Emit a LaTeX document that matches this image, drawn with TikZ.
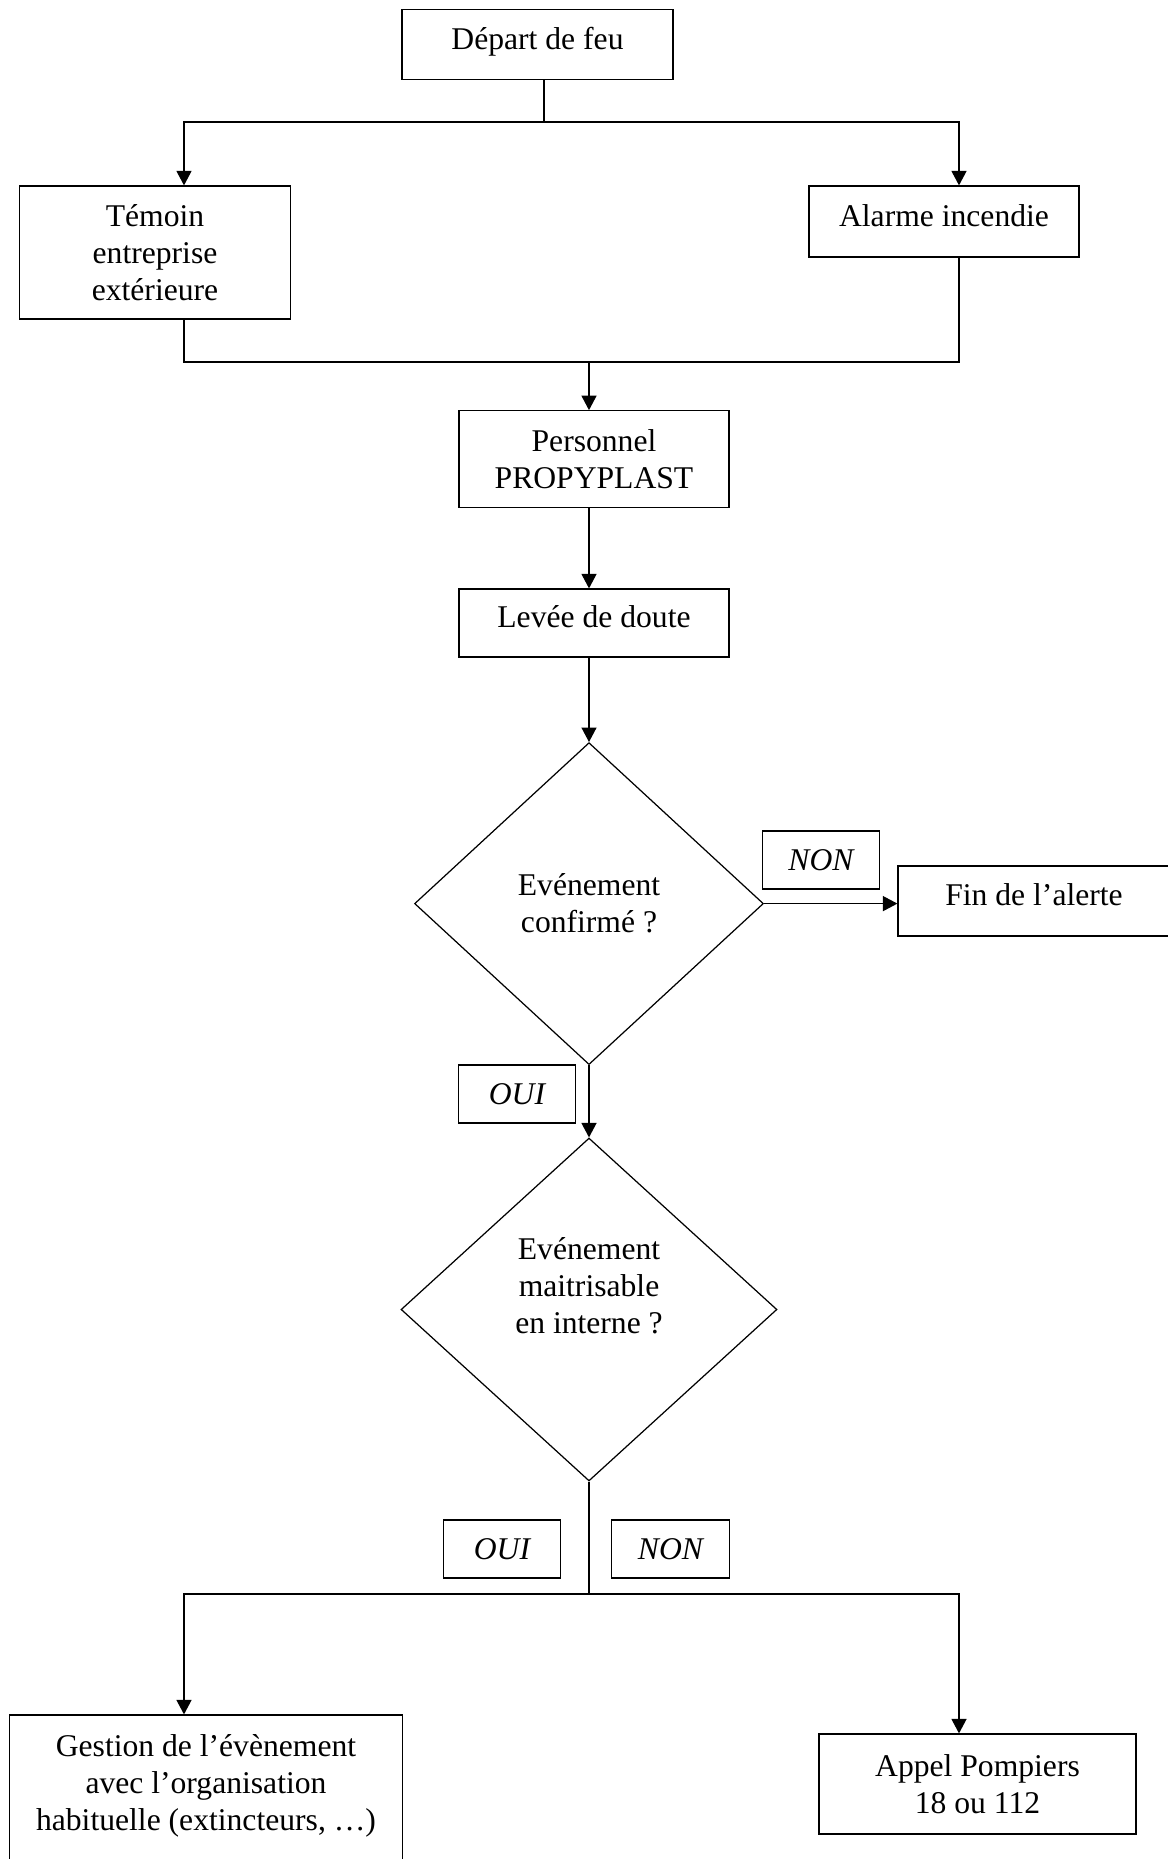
\documentclass[tikz,border=0pt]{standalone}
\usepackage{fontspec}
\setmainfont{Liberation Serif}
\usetikzlibrary{arrows.meta}
\usetikzlibrary{shapes.geometric}

\begin{document}
\begin{tikzpicture}[x=0.02cm,y=-0.02cm,
  every node/.style={font=\fontsize{18}{21}\selectfont},
  box/.style={rectangle,draw,line width=0.7pt,align=center,inner sep=0pt},
  oneline/.style={text height=0.7em,text depth=0.15em},
  choice/.style={diamond,draw,line width=0.7pt,align=center,inner sep=0pt},
  answer/.style={rectangle,draw,line width=0.7pt,inner sep=0pt,minimum width=2.35cm,minimum height=1.16cm,font=\fontsize{18}{21}\selectfont\itshape},
  link/.style={line width=0.8pt},
  flow/.style={link,-{Triangle[length=0.29cm,width=0.3cm]}}]
\useasboundingbox (0,0) rectangle (1168,1859);

% boxes
\node[box,oneline,minimum width=5.42cm,minimum height=1.4cm] (depart) at (537.5,44.5) {Départ de feu};
\node[box,minimum width=5.41cm,minimum height=2.66cm] (temoin) at (155,252.5) {Témoin\\entreprise\\extérieure};
\node[box,oneline,minimum width=5.4cm,minimum height=1.42cm] (alarme) at (944,221.5) {Alarme incendie};
\node[box,minimum width=5.4cm,minimum height=1.93cm] (personnel) at (594,459) {Personnel\\PROPYPLAST};
\node[box,oneline,minimum width=5.4cm,minimum height=1.36cm] (levee) at (594,623) {Levée de doute};
\node[choice,minimum width=6.98cm,minimum height=6.44cm] (confirme) at (589,903.6) {Evénement\\confirmé ?};
\node[box,oneline,minimum width=5.44cm,minimum height=1.4cm] (fin) at (1034,901) {Fin de l’alerte};
\node[choice,text depth=27pt,minimum width=7.52cm,minimum height=6.86cm] (maitrise) at (589,1309.5) {Evénement\\maitrisable\\en interne ?};
\node[box,text depth=8.5pt,minimum width=7.85cm,minimum height=3cm] (gestion) at (206,1790) {Gestion de l’évènement\\avec l’organisation\\habituelle (extincteurs, …)};
\node[box,minimum width=6.34cm,minimum height=2cm] (appel) at (977.5,1784) {Appel Pompiers\\18 ou 112};

% answers
\node[answer] (non1) at (821,860) {NON};
\node[answer] (oui1) at (517,1094) {OUI};
\node[answer] (oui2) at (502,1549) {OUI};
\node[answer] (non2) at (670.5,1549) {NON};

% connectors
\coordinate (top split) at (544,122);
\coordinate (lft) at (184,122);
\coordinate (rgt) at (959,122);
\coordinate (join) at (589,362);
\coordinate (bottom split) at (589,1594);
\coordinate (blft) at (184,1594);
\coordinate (brgt) at (959,1594);

\draw[link] (depart.south -| top split) -- (top split);
\draw[flow] (top split) -- (lft) -- (temoin.north -| lft);
\draw[flow] (top split) -- (rgt) -- (alarme.north -| rgt);
\draw[link] (temoin.south -| lft) |- (join);
\draw[link] (alarme.south -| rgt) |- (join);
\draw[flow] (join) -- (personnel.north -| join);
\draw[flow] (personnel.south -| join) -- (levee.north -| join);
\draw[flow] (levee.south -| confirme.north) -- (confirme.north);
\draw[flow] (confirme.east) -- (fin.west |- confirme.east);
\draw[flow] (confirme.south) -- (maitrise.north);
\draw[link] (maitrise.south) -- (bottom split);
\draw[flow] (bottom split) -- (blft) -- (gestion.north -| blft);
\draw[flow] (bottom split) -- (brgt) -- (appel.north -| brgt);

\end{tikzpicture}
\end{document}
